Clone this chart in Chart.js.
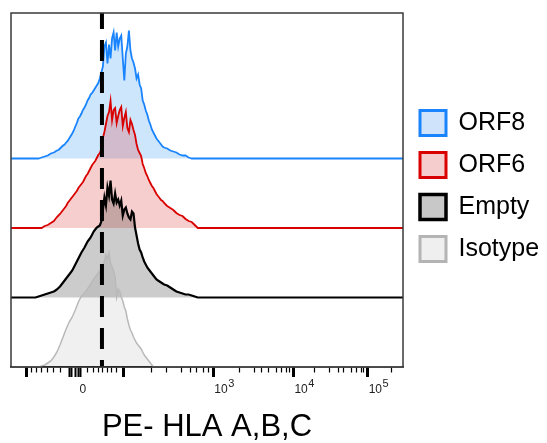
<!DOCTYPE html>
<html>
<head>
<meta charset="utf-8">
<script src="https://cdn.jsdelivr.net/npm/chart.js"></script>
<style>
html,body{margin:0;padding:0;background:#fff;}
#wrap{width:547px;height:443px;position:relative;}
</style>
</head>
<body>
<div id="wrap"><canvas id="c" width="547" height="443"></canvas></div>
<script>
// ---------------- DATA ----------------
// Display channels (0..256) of the logicle-scaled PE axis; one histogram bin per channel.
const seriesNames = ['ORF8', 'ORF6', 'Empty', 'Isotype'];

const orf8Start = 18;
const orf8Counts = [0,1,2,3,4,5,6,8,10,11,12,14,16,17,20,23,26,28,32,35,40,45,50,56,64,71,80,84,90,97,102,108,116,121,128,131,136,141,146,151,160,172,184,224,232,190,228,200,240,252,216,252,224,240,246,200,156,210,224,256,216,200,192,180,160,168,148,140,116,108,96,88,76,68,58,52,46,40,36,32,28,24,22,21,20,18,16,15,14,13,12,10,8,7,6,6,6,4,2,1,0];

const orf6Start = 20;
const orf6Counts = [0,2,4,5,6,8,10,12,14,18,22,25,28,32,36,40,44,50,54,58,62,66,70,74,80,84,88,92,98,104,108,114,120,126,130,134,140,146,150,158,180,192,208,224,232,254,216,236,240,210,224,236,242,204,220,232,200,192,216,208,196,186,168,156,150,144,128,120,110,104,96,90,84,80,74,68,64,60,56,54,50,47,44,42,40,38,36,33,30,28,26,25,24,21,18,16,14,13,12,9,6,3,0];

const emptyStart = 16;
const emptyCounts = [0,1,2,3,4,5,6,7,8,9,10,11,12,14,16,19,22,26,30,34,38,42,46,50,54,60,66,72,78,84,90,95,100,106,112,116,120,126,132,136,140,142,144,152,176,200,184,220,204,234,196,188,208,190,196,184,194,164,176,180,168,160,156,172,168,140,124,108,96,90,80,72,66,60,56,52,48,44,40,36,34,32,30,28,26,25,24,22,20,18,16,14,12,11,10,9,8,7,6,6,6,5,4,3,2,1,0];

const isotypeStart = 18;
const isotypeCounts = [0,1,2,3,4,6,8,10,12,16,20,25,30,37,44,52,60,68,76,83,90,95,100,107,114,122,130,136,142,145,148,152,156,161,166,171,176,180,184,188,192,194,200,212,224,216,228,208,200,192,180,140,156,152,140,132,120,112,96,84,74,68,60,54,48,44,40,36,30,24,20,16,12,8,4,0];

// gate (dashed line) channel
const gateChannel = 59.4;

// axis ticks (display channels)
const majorTicks = [9.8, 73.3, 132.1, 184.4, 232.9];
const zeroTicks = [37.9, 39.8, 41.8, 43.8, 45.7];
const minorTicks = [13.5, 16.8, 20.0, 23.7, 27.6, 32.0, 49.8, 53.7, 57.0, 59.9, 62.9, 65.8, 68.6, 91.9, 101.7, 111.5, 116.9, 121.3, 125.6, 128.8, 149.1, 158.7, 163.6, 168.0, 173.5, 176.8, 179.6, 181.8, 198.5, 208.3, 213.6, 217.0, 222.5, 225.8, 228.6, 230.5, 248.7];
const labelTicks = [39.8, 132.1, 184.4, 232.9];
const tickLabelBase = ['0', '10', '10', '10'];
const tickLabelExp = ['', '3', '4', '5'];
const axisTitle = 'PE- HLA A,B,C';

// ---------------- STYLE ----------------
const FONT = '"Liberation Sans", Arial, Helvetica, sans-serif';
Chart.defaults.font.family = FONT;
const xMin = 0, xMax = 256;
const bandStep = 139;   // vertical offset between stacked histograms (count units)
const yMax = 708;

const lineColors = ['#1a84ff', '#d90000', '#000000', '#b9b9b9'];
const fillColors = ['rgba(30,140,240,0.22)', 'rgba(220,30,30,0.22)', 'rgba(0,0,0,0.2)', 'rgba(0,0,0,0.06)'];
const legendFills = ['#cfe4fb', '#f6cdcd', '#c8c8c8', '#efefef'];
const legendStrokes = ['#1a84ff', '#d90000', '#000000', '#b4b4b4'];
const lineWidths = [1.8, 1.8, 2.2, 1.5];
const legendBorders = [3, 3, 3.5, 3];
const drawOrder = [4, 3, 2, 1];

const starts = [orf8Start, orf6Start, emptyStart, isotypeStart];
const counts = [orf8Counts, orf6Counts, emptyCounts, isotypeCounts];

const datasets = seriesNames.map((name, i) => {
  const off = (seriesNames.length - 1 - i) * bandStep;
  const pts = [{x: xMin, y: off}];
  counts[i].forEach((c, k) => pts.push({x: starts[i] + k, y: off + c}));
  pts.push({x: xMax, y: off});
  return {
    label: name,
    data: pts,
    borderColor: lineColors[i],
    backgroundColor: fillColors[i],
    borderWidth: lineWidths[i],
    fill: {value: off},
    pointRadius: 0,
    tension: 0,
    order: drawOrder[i]
  };
});

datasets.push({
  label: 'gate',
  data: [{x: gateChannel, y: 0}, {x: gateChannel, y: yMax}],
  borderColor: '#000',
  borderWidth: 4,
  borderDash: [21, 11],
  borderDashOffset: 14,
  pointRadius: 0,
  fill: false,
  order: 0
});

const near = (a, b) => Math.abs(a - b) < 0.05;
const allTicks = [...majorTicks, ...zeroTicks, ...minorTicks].sort((a, b) => a - b);

const framePlugin = {
  id: 'frame',
  afterDatasetsDraw(chart) {
    const {ctx, chartArea: a} = chart;
    ctx.save();
    ctx.strokeStyle = '#3a3a3a';
    ctx.lineWidth = 1.5;
    ctx.strokeRect(a.left, a.top, a.right - a.left, a.bottom - a.top);
    ctx.restore();
  }
};

// tick labels with real superscripts
const tickLabelPlugin = {
  id: 'tickLabels',
  afterDraw(chart) {
    const sx = chart.scales.x;
    const ctx = chart.ctx;
    const y = sx.top + 23;
    ctx.save();
    ctx.fillStyle = '#222';
    ctx.textBaseline = 'middle';
    ctx.textAlign = 'left';
    labelTicks.forEach((v, k) => {
      const cx = sx.getPixelForValue(v) + 11;
      ctx.font = '12px ' + FONT;
      const wb = ctx.measureText(tickLabelBase[k]).width;
      ctx.font = '11px ' + FONT;
      const we = tickLabelExp[k] ? ctx.measureText(tickLabelExp[k]).width + 0.5 : 0;
      const left = cx - (wb + we) / 2;
      ctx.font = '12px ' + FONT;
      ctx.fillText(tickLabelBase[k], left, y);
      if (tickLabelExp[k]) {
        ctx.font = '11px ' + FONT;
        ctx.fillText(tickLabelExp[k], left + wb + 0.5, y - 6);
      }
    });
    ctx.restore();
  }
};

new Chart(document.getElementById('c'), {
  type: 'line',
  data: {datasets},
  plugins: [framePlugin, tickLabelPlugin],
  options: {
    responsive: false,
    animation: false,
    devicePixelRatio: 1,
    layout: {padding: {left: 11, top: 13, right: 0, bottom: 0}},
    scales: {
      x: {
        type: 'linear',
        min: xMin,
        max: xMax,
        afterBuildTicks: (scale) => { scale.ticks = allTicks.map(v => ({value: v})); },
        ticks: {
          display: false,
          autoSkip: false,
          maxRotation: 0,
          minRotation: 0
        },
        grid: {
          drawOnChartArea: false,
          drawTicks: true,
          tickLength: 10,
          tickColor: '#000',
          tickWidth: (ctx) => {
            const v = ctx.tick ? ctx.tick.value : 0;
            if (majorTicks.some(t => near(t, v))) return 3;
            if (zeroTicks.some(t => near(t, v))) return 2;
            return 1.2;
          },
          tickBorderDash: (ctx) => {
            const v = ctx.tick ? ctx.tick.value : 0;
            if (majorTicks.some(t => near(t, v)) || zeroTicks.some(t => near(t, v))) return [];
            return [5, 30];
          }
        },
        border: {display: true, color: '#000', width: 1.5},
        title: {
          display: true,
          text: axisTitle,
          color: '#000',
          font: {size: 31, lineHeight: 1},
          padding: {top: 35, bottom: 0}
        }
      },
      y: {
        type: 'linear',
        min: 0,
        max: yMax,
        display: false
      }
    },
    plugins: {
      tooltip: {enabled: false},
      legend: {
        position: 'right',
        align: 'start',
        fullSize: false,
        maxWidth: 144,
        title: {display: true, text: ' ', padding: {top: 70.5, bottom: 0}, font: {size: 10, lineHeight: 1}},
        labels: {
          boxWidth: 26,
          boxHeight: 25,
          padding: 17,
          color: '#000',
          font: {size: 25},
          generateLabels: () => seriesNames.map((name, i) => ({
            text: name,
            fillStyle: legendFills[i],
            strokeStyle: legendStrokes[i],
            lineWidth: legendBorders[i],
            fontColor: '#000',
            hidden: false,
            datasetIndex: i
          }))
        }
      }
    }
  }
});
</script>
</body>
</html>
